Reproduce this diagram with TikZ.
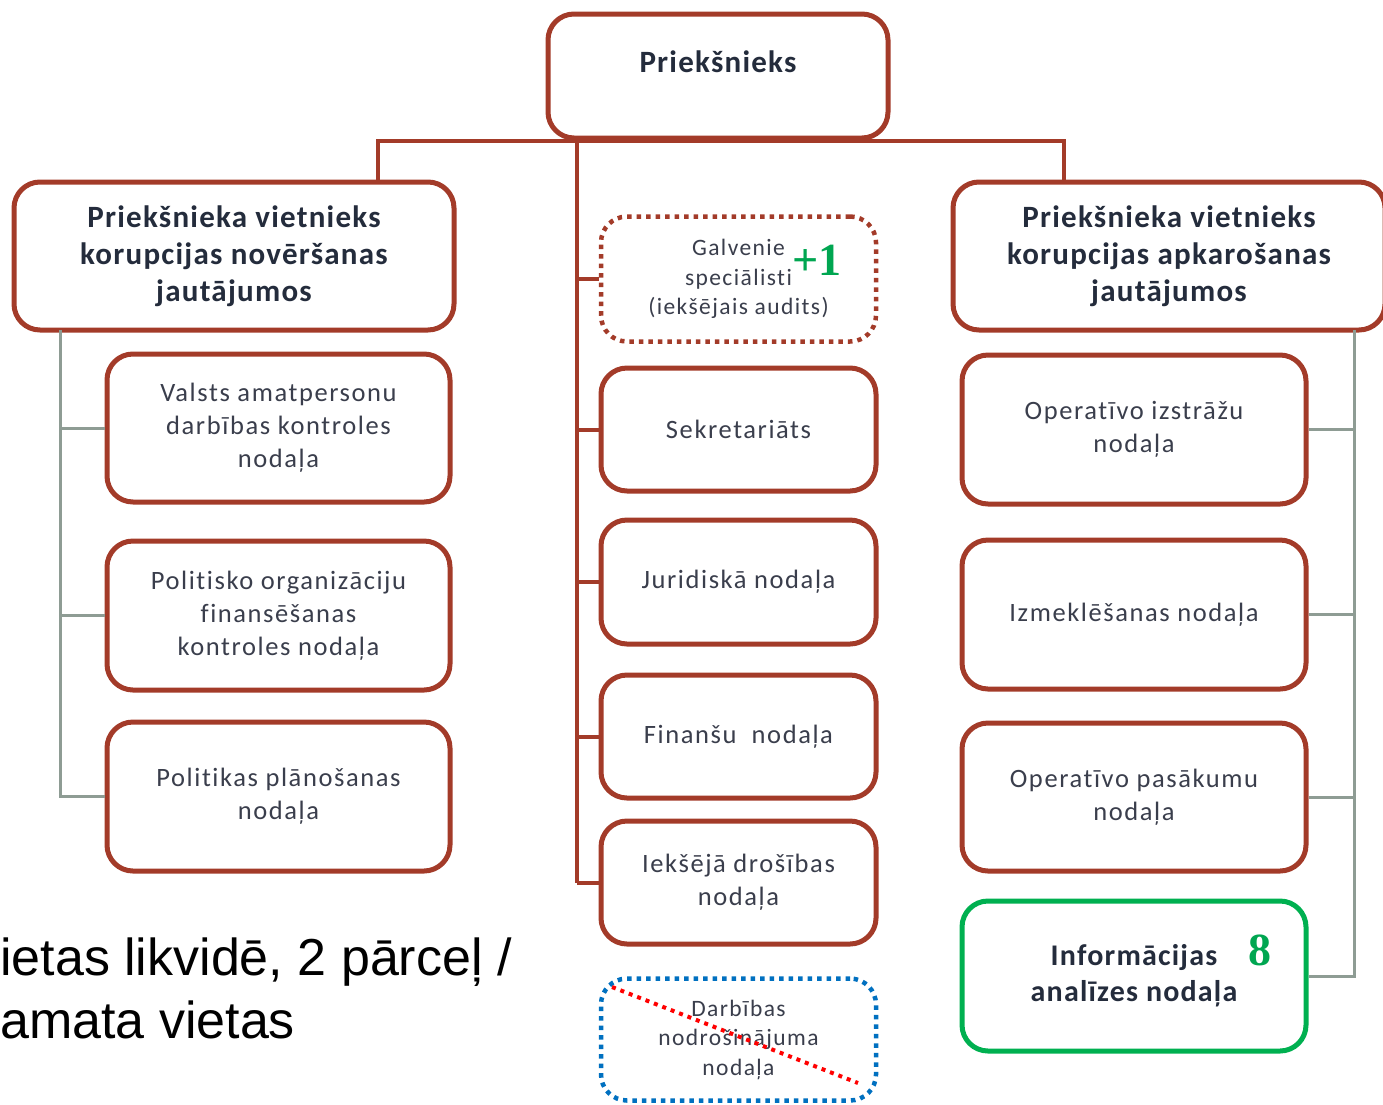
\documentclass[tikz,border=0pt]{standalone}
\usepackage{fontspec}
\setmainfont{Carlito}
\newfontfamily\boxfont{Carlito}[LetterSpace=6,Ligatures=NoCommon]
\newfontfamily\headfont{Carlito}[LetterSpace=4,Ligatures=NoCommon]
\newfontfamily\notefont{Liberation Sans}
\newfontfamily\markfont{Liberation Serif}

\definecolor{brick}{HTML}{A33B29}
\definecolor{slate}{HTML}{8E9C94}
\definecolor{leaf}{HTML}{00B050}
\definecolor{markgreen}{HTML}{00A651}
\definecolor{sky}{HTML}{0070C0}
\definecolor{ink}{HTML}{242C3C}
\definecolor{txt}{HTML}{3A3E4C}

\begin{document}
\begin{tikzpicture}[
  x=1pt, y=-1pt,
  inner sep=0pt,
  box/.style={
    draw=brick,
    line width=5pt,
    rounded corners=26pt,
    fill=white,
    align=center,
    text=txt,
    font=\boxfont\fontsize{26.5}{33}\selectfont
  },
  head/.style={
    box,
    text=ink,
    font=\headfont\bfseries\fontsize{31}{37}\selectfont
  },
  dotbox/.style={
    box,
    line width=4.5pt,
    dash pattern=on 4.5pt off 5pt,
    font=\boxfont\fontsize{23.5}{29.5}\selectfont
  },
  greenmark/.style={
    text=markgreen,
    font=\markfont\bfseries\fontsize{46}{46}\selectfont
  },
  trunk/.style={
    draw=brick,
    line width=4pt
  },
  branch/.style={
    draw=slate,
    line width=3pt
  },
  strike/.style={
    draw=red,
    line width=4pt,
    dash pattern=on 4pt off 5pt
  }
  ]

  \useasboundingbox (0,0) rectangle (1383,1104);

  % heads
  \node (boss) [head,minimum width=340,minimum height=124,text depth=28pt] at (718,76) {Priekšnieks};
  \node (dep-left) [head,minimum width=440,minimum height=148] at (234,256)
    {Priekšnieka vietnieks\\korupcijas novēršanas\\jautājumos};
  \node (dep-right) [head,minimum width=432,minimum height=148] at (1169,256)
    {Priekšnieka vietnieks\\korupcijas apkarošanas\\jautājumos};

  % left column
  \node (valsts) [box,minimum width=343,minimum height=148] at (278.5,428)
    {Valsts amatpersonu\\darbības kontroles\\nodaļa};
  \node (politisko) [box,minimum width=343,minimum height=149] at (278.5,615.5)
    {Politisko organizāciju\\finansēšanas\\kontroles nodaļa};
  \node (politikas) [box,minimum width=343,minimum height=149] at (278.5,796.5)
    {Politikas plānošanas\\nodaļa};

  % middle column
  \node (galvenie) [dotbox,minimum width=275,minimum height=125] at (738.5,279)
    {Galvenie\\speciālisti\\(iekšējais audits)};
  \node (sekretariats) [box,minimum width=275,minimum height=123] at (738.5,429.5) {Sekretariāts};
  \node (juridiska) [box,minimum width=275,minimum height=124] at (738.5,582) {Juridiskā nodaļa};
  \node (finansu) [box,minimum width=275,minimum height=123] at (738.5,736.5) {Finanšu\ \ nodaļa};
  \node (iekseja) [box,minimum width=275,minimum height=123] at (738.5,882.5)
    {Iekšējā drošības\\nodaļa};
  \node (darbibas) [dotbox,draw=sky,minimum width=275,minimum height=122] at (738.5,1039.5)
    {Darbības\\nodrošinājuma\\nodaļa};

  % right column
  \node (izstrazu) [box,minimum width=344,minimum height=149] at (1134,429.5)
    {Operatīvo izstrāžu\\nodaļa};
  \node (izmeklesanas) [box,minimum width=344,minimum height=149] at (1134,614.5)
    {Izmeklēšanas nodaļa};
  \node (pasakumu) [box,minimum width=344,minimum height=148] at (1134,797)
    {Operatīvo pasākumu\\nodaļa};
  \node (informacijas) [head,draw=leaf,minimum width=344,minimum height=150,
    font=\headfont\bfseries\fontsize{30}{36}\selectfont] at (1134,976)
    {Informācijas\\analīzes nodaļa};

  % changes
  \node (plus-one) [greenmark] at (817,260) {+1};
  \node (eight) [greenmark] at (1260,950) {8};
  \node (note) [anchor=north west,align=left,font=\notefont\fontsize{52}{63}\selectfont] at (0,938)
    {ietas likvidē, 2 pārceļ /\\amata vietas};

  % red tree
  \coordinate (bus-l) at (378,141);
  \coordinate (bus-c) at (577,141);
  \coordinate (bus-r) at (1064,141);
  \draw [trunk] (bus-l |- dep-left.north) -- (bus-l) -- (bus-r) -- (bus-r |- dep-right.north);
  \draw [trunk] (bus-c) -- (bus-c |- iekseja.west);
  \foreach \n in {galvenie,sekretariats,juridiska,finansu,iekseja}
    \draw [trunk] (bus-c |- \n.west) -- (\n.west);

  % grey spines
  \coordinate (spine-l) at (60,330);
  \coordinate (spine-r) at (1354,330);
  \foreach \n in {valsts,politisko,politikas}
    \draw [branch] (spine-l) |- (\n.west);
  \foreach \n in {izstrazu,izmeklesanas,pasakumu,informacijas}
    \draw [branch] (spine-r) |- (\n.east);

  % crossed out
  \draw [strike] (612,987) -- (858,1083);
\end{tikzpicture}
\end{document}
